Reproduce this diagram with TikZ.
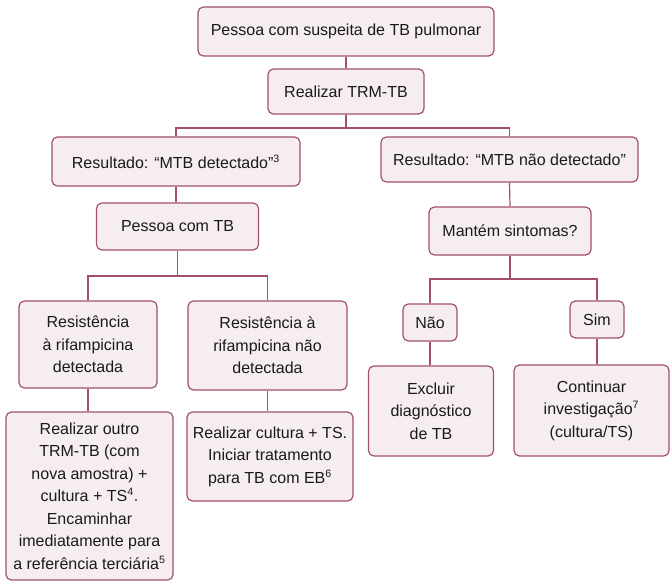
\documentclass[tikz,border=0pt]{standalone}
\usepackage{fontspec}
\setmainfont{Liberation Sans}
\definecolor{bordercol}{HTML}{A2506E}
\definecolor{fillcol}{HTML}{F6EDEF}
\definecolor{textcol}{HTML}{1A1A1A}
\begin{document}
\begin{tikzpicture}[x=0.75pt,y=-0.75pt,
  box/.style={draw=bordercol, fill=fillcol, line width=0.9pt, rounded corners=4pt,
    align=center, inner sep=2pt, text=textcol,
    font=\fontsize{12}{16.9}\selectfont},
  conn/.style={draw=bordercol, line width=0.9pt}]
\useasboundingbox (0,0) rectangle (670,581);
\node[box, minimum width=222pt, minimum height=36.75pt] (n1) at (346,31.5) {Pessoa com suspeita de TB pulmonar};
\node[box, minimum width=117pt, minimum height=33.75pt] (n2) at (346,91.5) {Realizar TRM-TB};
\node[box, minimum width=186pt, minimum height=36.75pt] (n3) at (176,161.5) {Resultado: “MTB detectado”\textsuperscript{3}};
\node[box, minimum width=192.75pt, minimum height=33.75pt] (n4) at (509.5,159.5) {Resultado: “MTB não detectado”};
\node[box, minimum width=121.5pt, minimum height=35.25pt] (n5) at (177.5,226.5) {Pessoa com TB};
\node[box, minimum width=121.5pt, minimum height=36pt] (n6) at (510,231) {Mantém sintomas?};
\node[box, minimum width=103.5pt, minimum height=65.25pt] (n7) at (88,344.5) {Resistência\\à rifampicina\\detectada};
\node[box, minimum width=119.25pt, minimum height=66.75pt] (n8) at (267.5,345.5) {Resistência à\\rifampicina não\\detectada};
\node[box, minimum width=40.5pt, minimum height=27.75pt] (n9) at (430,322.5) {Não};
\node[box, minimum width=40.5pt, minimum height=27.75pt] (n10) at (597,319.5) {Sim};
\node[box, minimum width=93.75pt, minimum height=67.5pt] (n11) at (431,411) {Excluir\\diagnóstico\\de TB};
\node[box, minimum width=116.25pt, minimum height=68.25pt] (n12) at (591.5,410.5) {Continuar\\investigação\textsuperscript{7}\\(cultura/TS)};
\node[box, minimum width=125.25pt, minimum height=126pt] (n13) at (89.5,496) {Realizar outro\\TRM-TB (com\\nova amostra) +\\cultura + TS\textsuperscript{4}.\\Encaminhar\\imediatamente para\\a referência terciária\textsuperscript{5}};
\node[box, minimum width=124.5pt, minimum height=66.75pt] (n14) at (270,456.5) {Realizar cultura + TS.\\Iniciar tratamento\\para TB com EB\textsuperscript{6}};
\coordinate (j1) at (346,128);
\coordinate (j2) at (177.5,276);
\coordinate (j3) at (510,279);
\draw[conn] (n1.south) -- (n2.north);
\draw[conn] (n2.south) -- (j1);
\draw[conn] (n3.north) |- (j1) -| (n4.north);
\draw[conn] (n3.south) -- (n3.south |- n5.north);
\draw[conn] (n5.south) -- (j2);
\draw[conn] (n7.north) |- (j2) -| (n8.north);
\draw[conn] (n4.south) -- (n6.north);
\draw[conn] (n6.south) -- (j3);
\draw[conn] (n9.north) |- (j3) -| (n10.north);
\draw[conn] (n9.south) -- (n9.south |- n11.north);
\draw[conn] (n10.south) -- (n10.south |- n12.north);
\draw[conn] (n7.south) -- (n7.south |- n13.north);
\draw[conn] (n8.south) -- (n8.south |- n14.north);
\end{tikzpicture}
\end{document}
